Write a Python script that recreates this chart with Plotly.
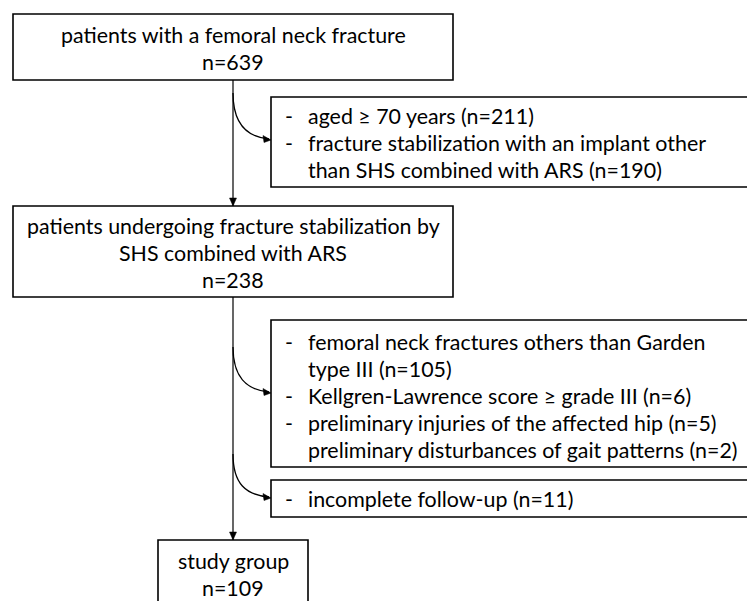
import plotly.graph_objects as go

# ---------------- data ----------------
main_labels = [
    "patients with a femoral neck fracture",
    "patients undergoing fracture stabilization by\nSHS combined with ARS",
    "study group",
]
main_counts = [639, 238, 109]

excl1_reasons = ["aged ≥ 70 years", "fracture stabilization with an implant other\nthan SHS combined with ARS"]
excl1_counts = [211, 190]
excl1_dash = [True, True]

excl2_reasons = [
    "femoral neck fractures others than Garden\ntype III",
    "Kellgren-Lawrence score ≥ grade III",
    "preliminary injuries of the affected hip",
    "preliminary disturbances of gait patterns",
]
excl2_counts = [105, 6, 5, 2]
excl2_dash = [True, True, True, False]

excl3_reasons = ["incomplete follow-up"]
excl3_counts = [11]
excl3_dash = [True]

# ---------------- layout spec ----------------
W, H = 747, 601
FONT = dict(family="Lato, 'Open Sans', sans-serif", size=21.4, color="#000000")
LINE_H = 27
CX = 233  # main flow axis
main_boxes = [  # x0, y0, x1, y1, first text line y
    (13, 14, 453, 80, 35),
    (13, 206, 453, 297, 226),
    (158, 540, 308, 640, 561),
]
excl_boxes = [  # x0, y0, x1, y1, first line y, arrow start y, arrow end y
    (271, 97, 760, 187, 116, 93, 140),
    (271, 320, 760, 467, 342, 347, 393),
    (271, 480, 760, 517, 499, 454, 498),
]
DASH_X, TEXT_X = 283, 306

fig = go.Figure()
shapes = []
annotations = []

def rect(x0, y0, x1, y1):
    shapes.append(dict(type="rect", xref="x", yref="y", x0=x0, y0=y0, x1=x1, y1=y1,
                       line=dict(color="black", width=1.6), fillcolor="white", layer="below"))

def arrowhead_down(x, y):
    shapes.append(dict(type="path", xref="x", yref="y",
                       path=f"M {x} {y} L {x-3.5} {y-8} L {x+3.5} {y-8} Z",
                       fillcolor="black", line=dict(color="black", width=0.5)))

def arrowhead_right(x, y):
    shapes.append(dict(type="path", xref="x", yref="y",
                       path=f"M {x} {y} L {x-8} {y-4.5} L {x-7} {y+2.5} Z",
                       fillcolor="black", line=dict(color="black", width=0.5)))

def text(x, y, s, anchor="center"):
    annotations.append(dict(x=x, y=y, xref="x", yref="y", text=s, showarrow=False,
                            xanchor=anchor, yanchor="middle", font=FONT))

# main boxes
for (x0, y0, x1, y1, ty), label, n in zip(main_boxes, main_labels, main_counts):
    rect(x0, y0, x1, y1)
    lines = label.split("\n") + [f"n={n}"]
    for i, ln in enumerate(lines):
        text(CX, ty + i * LINE_H, ln)

# vertical connectors
shapes.append(dict(type="line", xref="x", yref="y", x0=CX, x1=CX, y0=main_boxes[0][3], y1=main_boxes[1][1],
                   line=dict(color="black", width=1.2)))
arrowhead_down(CX, main_boxes[1][1])
shapes.append(dict(type="line", xref="x", yref="y", x0=CX, x1=CX, y0=main_boxes[1][3], y1=main_boxes[2][1],
                   line=dict(color="black", width=1.2)))
arrowhead_down(CX, main_boxes[2][1])

# exclusion boxes
groups = [
    (excl1_reasons, excl1_counts, excl1_dash),
    (excl2_reasons, excl2_counts, excl2_dash),
    (excl3_reasons, excl3_counts, excl3_dash),
]
for (x0, y0, x1, y1, ty, ys, ye), (reasons, counts, dashes) in zip(excl_boxes, groups):
    rect(x0, y0, x1, y1)
    row = 0
    for reason, n, d in zip(reasons, counts, dashes):
        lines = (reason + f" (n={n})").split("\n")
        for j, ln in enumerate(lines):
            y = ty + row * LINE_H
            if j == 0 and d:
                text(DASH_X, y, "-", anchor="left")
            text(TEXT_X, y, ln, anchor="left")
            row += 1
    # curved arrow
    shapes.append(dict(type="path", xref="x", yref="y",
                       path=f"M {CX} {ys} C {CX} {ys + 30} {x0 - 25} {ye - 3} {x0 - 2} {ye - 1}",
                       line=dict(color="black", width=1.3)))
    arrowhead_right(x0, ye)

fig.update_layout(
    width=W, height=H,
    margin=dict(l=0, r=0, t=0, b=0),
    paper_bgcolor="white", plot_bgcolor="white",
    xaxis=dict(range=[0, W], visible=False, fixedrange=True),
    yaxis=dict(range=[H, 0], visible=False, fixedrange=True),
    shapes=shapes, annotations=annotations, showlegend=False,
)
fig.write_html(
    "out.html",
    config={"displayModeBar": False},
    post_script="document.body.style.margin='0';document.body.style.overflow='hidden';",
)
